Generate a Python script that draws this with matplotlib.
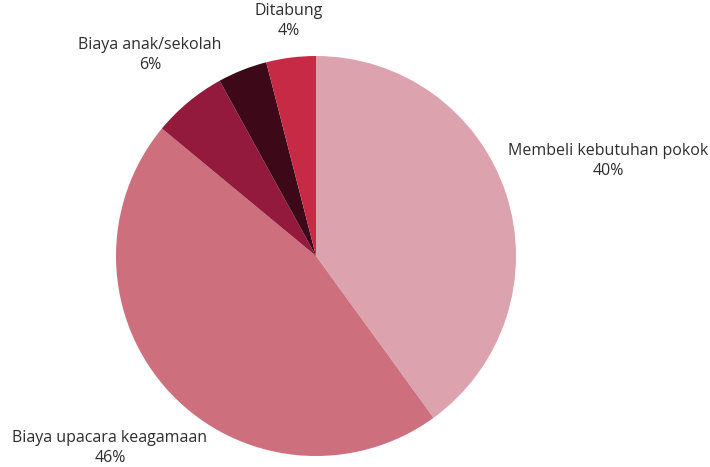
import matplotlib.pyplot as plt

categories = ['Membeli kebutuhan pokok', 'Biaya upacara keagamaan', 'Biaya anak/sekolah', '', 'Ditabung']
shares = [40, 46, 6, 4, 4]
colors = ['#DCA3AE', '#CD6F7C', '#931A3C', '#3D0817', '#C62A45']

plt.rcParams['font.family'] = ['Open Sans', 'DejaVu Sans']

fig = plt.figure(figsize=(7.1, 4.67), dpi=100)
ax = fig.add_axes([0, 0, 1, 1])

ax.pie(shares, colors=colors, startangle=90, counterclock=False,
       center=(316, 211), radius=200, frame=True)
ax.set_xlim(0, 710)
ax.set_ylim(0, 467)
ax.set_aspect('equal')
ax.axis('off')

# label positions in pixel space (y measured from top)
label_pos = [(608, 161), (110, 448), (150, 55), None, (289, 21)]
for name, val, pos in zip(categories, shares, label_pos):
    if pos is None or not name:
        continue
    ax.text(pos[0], 467 - pos[1], f'{name}\n{val}%', ha='center', va='center',
            fontsize=11.5, color='#2e2e2e', linespacing=1.3)

plt.savefig('out.png', dpi=100)
